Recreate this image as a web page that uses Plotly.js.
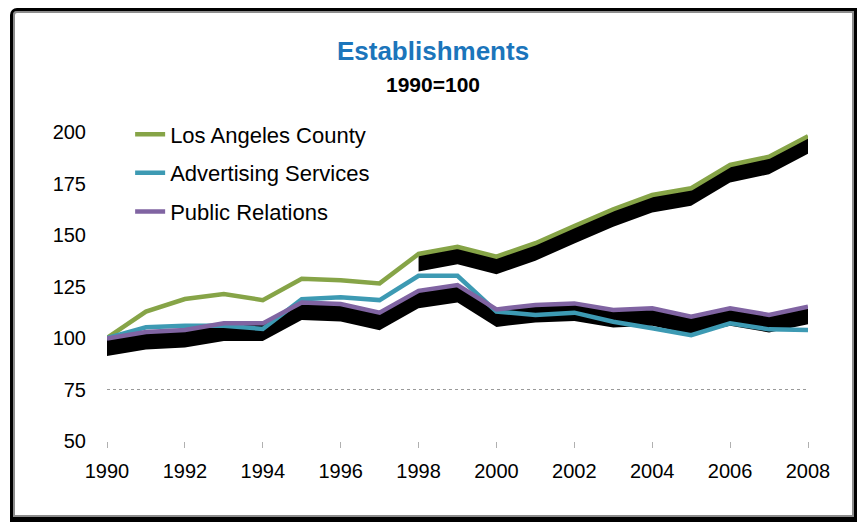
<!DOCTYPE html>
<html>
<head>
<meta charset="utf-8">
<script src="https://cdn.plot.ly/plotly-3.0.1.min.js"></script>
<style>
  html, body { margin:0; padding:0; background:#ffffff; width:857px; height:522px; overflow:hidden; }
  #frame { position:absolute; left:10px; top:8px; width:847px; height:514px; box-sizing:border-box;
           border-style:solid; border-color:#000; border-width:3px 3px 5px 3px; border-top-left-radius:7px;
           box-shadow: inset 0 0 0 2px #8c8c8c; background:#fff; }
  #chart { position:absolute; left:0; top:0; width:857px; height:522px; }
</style>
</head>
<body>
<div id="frame"></div>
<div id="chart"></div>
<script>
// ---- data (index, 1990 = 100) ----
const years = [1990,1991,1992,1993,1994,1995,1996,1997,1998,1999,2000,2001,2002,2003,2004,2005,2006,2007,2008];
const losAngelesCounty = [100,112.8,118.9,121.4,118.4,128.8,128,126.5,140.8,144.3,139.5,146,154.4,162.5,169.4,172.7,184,188,198];
const advertisingServices = [100,105.2,106,106,104.4,118.8,119.8,118.4,130.2,130.2,112.8,111.2,112.3,107.9,104.7,101.4,107.1,104.2,103.9];
const publicRelations = [99.8,102.9,103.9,107.1,107.1,117.2,116.5,112.3,122.9,125.7,113.9,116,116.8,113.6,114.4,110.3,114.4,111.2,115.2];
const seriesNames = ["Los Angeles County","Advertising Services","Public Relations"];
const yTicks = [50,75,100,125,150,175,200];
const xTicks = [1990,1992,1994,1996,1998,2000,2002,2004,2006,2008];
const titleText = "Establishments";
const subtitleText = "1990=100";

// ---- style ----
const FONT = "'Liberation Sans',Arial,sans-serif";
const colors = ["#86A447","#3D9AB3","#8064A2"];
const LW = 4.5;
const SHADOW_DROP = 8.5;   // depth of the black drop shadow, in axis units
const shadowStart = 8;     // LA County shadow is only visible from 1998 on

function shadowPair(xs, ys) {
  const lower = ys.map(v => v - SHADOW_DROP);
  return [
    {x: xs, y: ys, type:'scatter', mode:'lines', line:{width:0, color:'#000'}, showlegend:false, hoverinfo:'skip'},
    {x: xs, y: lower, type:'scatter', mode:'lines', line:{width:0, color:'#000'}, fill:'tonexty', fillcolor:'#000', showlegend:false, hoverinfo:'skip'}
  ];
}

const traces = [
  ...shadowPair(years.slice(shadowStart), losAngelesCounty.slice(shadowStart)),
  ...shadowPair(years, publicRelations),
  {x: years, y: losAngelesCounty, name: seriesNames[0], type:'scatter', mode:'lines', line:{color:colors[0], width:LW}, legendgroup:'a'},
  {x: years, y: advertisingServices, name: seriesNames[1], type:'scatter', mode:'lines', line:{color:colors[1], width:LW}, legendgroup:'b'},
  {x: years, y: publicRelations, name: seriesNames[2], type:'scatter', mode:'lines', line:{color:colors[2], width:LW}, legendgroup:'c'}
];

const layout = {
  width: 857, height: 522,
  margin: {l:107, r:49, t:132, b:81},
  paper_bgcolor: 'rgba(0,0,0,0)',
  plot_bgcolor: 'rgba(0,0,0,0)',
  font: {family: FONT, color:'#000'},
  title: {
    text: '<b>' + titleText + '</b>',
    font: {family: FONT, size: 26, color:'#1B75BB'},
    x: 0.5053, xref:'container', xanchor:'center',
    y: 1 - 51/522, yref:'container', yanchor:'middle'
  },
  annotations: [{
    text: '<b>' + subtitleText + '</b>', showarrow:false,
    xref:'paper', yref:'paper', x: (433 - 107)/701, y: (441 - 84)/309,
    xanchor:'center', yanchor:'middle',
    font: {family: FONT, size: 21, color:'#000'}
  }],
  showlegend: true,
  legend: {
    x: 0.033, xanchor:'left', y: 1.06, yanchor:'top',
    bgcolor:'rgba(0,0,0,0)', borderwidth:0,
    font: {family: FONT, size: 22, color:'#000'},
    traceorder: 'grouped', tracegroupgap: 7
  },
  xaxis: {
    range: [1990, 2008], tickvals: xTicks, ticktext: xTicks.map(String),
    showgrid:false, zeroline:false, showline:false,
    ticks:'outside', ticklen:6, tickwidth:1, tickcolor:'#b0b0b0',
    ticklabelstandoff: 6,
    tickfont: {family: FONT, size: 20, color:'#000'}
  },
  yaxis: {
    range: [50, 200], tickvals: yTicks, ticktext: yTicks.map(String),
    showgrid:false, zeroline:false, showline:false, ticks:'',
    ticklabelstandoff: 20,
    tickfont: {family: FONT, size: 20, color:'#000'},
    minor: {tickvals:[50,75], showgrid:true, gridcolor:'#9a9a9a', griddash:'dot', gridwidth:1.2, ticks:''}
  }
};

Plotly.newPlot('chart', traces, layout, {displayModeBar:false, staticPlot:true});
</script>
</body>
</html>
